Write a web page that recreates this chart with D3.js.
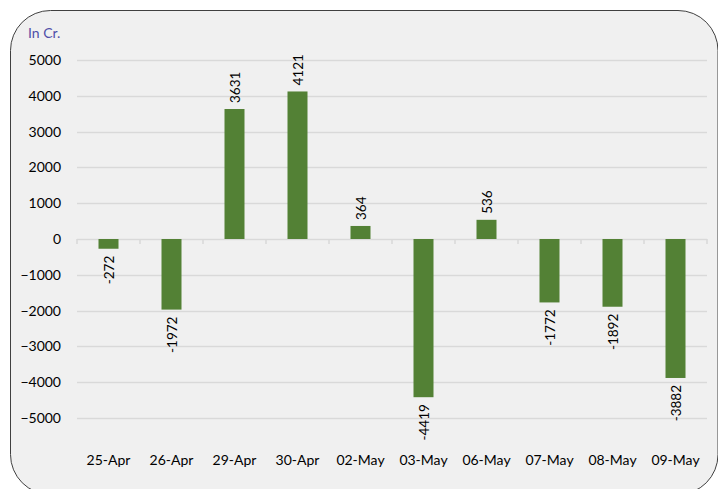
<!DOCTYPE html>
<html><head><meta charset="utf-8">
<script src="https://cdn.jsdelivr.net/npm/d3@7/dist/d3.min.js"></script>
<style>
html,body{margin:0;padding:0;background:#fff;}
svg{display:block;font-family:Lato,"Open Sans",sans-serif;}
</style></head>
<body>
<script>
const categories = ["25-Apr","26-Apr","29-Apr","30-Apr","02-May","03-May","06-May","07-May","08-May","09-May"];
const values = [-272,-1972,3631,4121,364,-4419,536,-1772,-1892,-3882];
const yTicks = [5000,4000,3000,2000,1000,0,-1000,-2000,-3000,-4000,-5000];
const unitLabel = "In Cr.";

const W = 718, H = 489;
const FONT = "Lato,'Open Sans',sans-serif";
const svg = d3.select("body").append("svg").attr("width", W).attr("height", H);

svg.append("rect").attr("x",10.5).attr("y",10.5).attr("width",707.5).attr("height",484)
  .attr("rx",40).attr("ry",40).attr("fill","#f0f0f0").attr("stroke","#404040").attr("stroke-width",1);

const x = d3.scaleBand().domain(categories).range([77,707]).paddingInner(0).paddingOuter(0);
const y = d3.scaleLinear().domain([-5000,5000]).range([418,60]);

// gridlines
svg.append("g").selectAll("line").data(yTicks).join("line")
  .attr("x1",77).attr("x2",707)
  .attr("y1",d=>Math.round(y(d))+0.5).attr("y2",d=>Math.round(y(d))+0.5)
  .attr("stroke","#d9d9d9").attr("stroke-width",1.5);

// y axis labels
const yAxis = d3.axisLeft(y).tickValues(yTicks).tickSize(0).tickPadding(0).tickFormat(d3.format("d"));
const gy = svg.append("g").attr("transform","translate(61,0)").call(yAxis);
gy.select(".domain").remove();
gy.selectAll("text").attr("font-size",14).attr("fill","#000").attr("font-family",FONT);

// category ticks on zero line
const bounds = categories.map(c=>x(c)).concat([707]);
svg.append("g").selectAll("line").data(bounds).join("line")
  .attr("x1",d=>d).attr("x2",d=>d).attr("y1",y(0)).attr("y2",y(0)+5)
  .attr("stroke","#d9d9d9").attr("stroke-width",1.5);

// bars
const bw = 20;
svg.append("g").selectAll("rect").data(values).join("rect")
  .attr("x",(d,i)=>x(categories[i])+x.bandwidth()/2-bw/2)
  .attr("width",bw)
  .attr("y",d=>y(Math.max(0,d)))
  .attr("height",d=>Math.abs(y(d)-y(0)))
  .attr("fill","#538135");

// value labels
svg.append("g").selectAll("text").data(values).join("text")
  .attr("transform",(d,i)=>{
    const cx = x(categories[i])+x.bandwidth()/2;
    const yy = d>=0 ? y(d)-6 : y(d)+7;
    return `translate(${cx+5},${yy}) rotate(-90)`;
  })
  .attr("text-anchor",d=>d>=0?"start":"end")
  .attr("font-size",13.5).attr("fill","#000").attr("font-family",FONT)
  .text(d=>d);

// x axis labels
const xAxis = d3.axisBottom(x).tickSize(0).tickPadding(0);
const gx = svg.append("g").attr("transform","translate(0,455)").call(xAxis);
gx.select(".domain").remove();
gx.selectAll("text").attr("font-size",14).attr("fill","#000").attr("font-family",FONT);

svg.append("text").attr("x",28).attr("y",38).attr("font-size",14).attr("fill","#4f4fa8").attr("font-family",FONT).text(unitLabel);
</script>
</body></html>
